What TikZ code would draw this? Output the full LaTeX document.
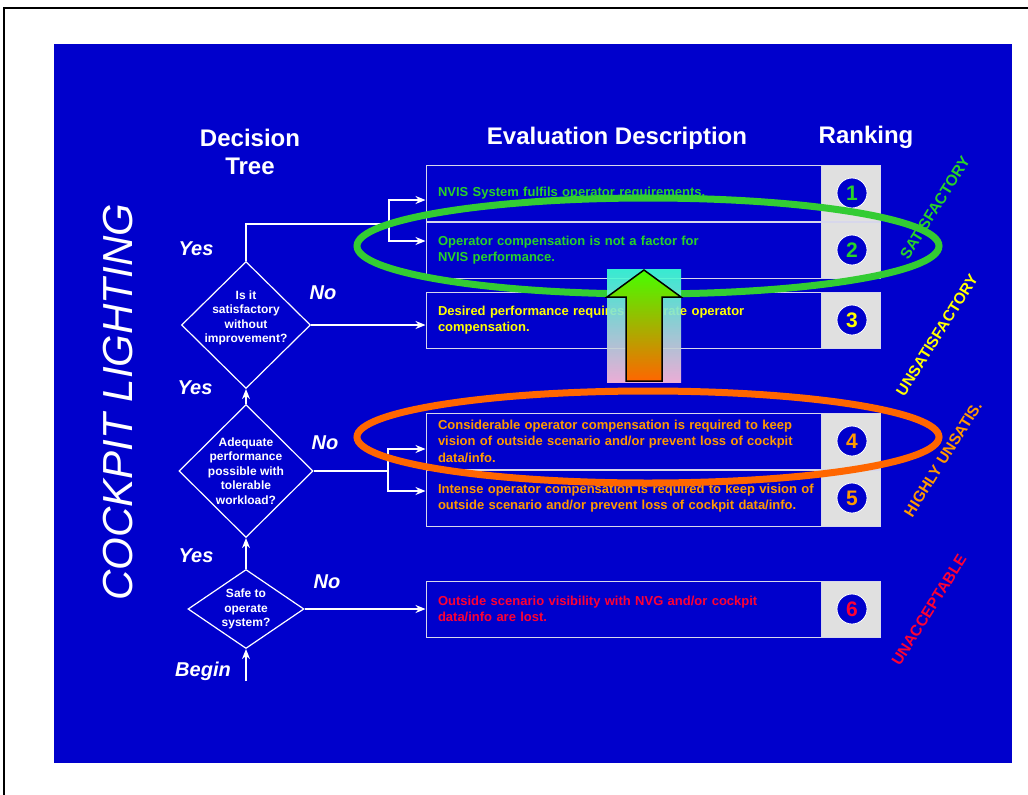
\documentclass[tikz,border=0pt]{standalone}
\usepackage{fontspec}
\setmainfont{Liberation Sans}
\usetikzlibrary{arrows.meta,positioning,shapes.geometric,calc}
\definecolor{slideblue}{RGB}{0,0,204}
\definecolor{satgreen}{RGB}{40,210,40}
\definecolor{ringgreen}{RGB}{51,204,51}
\definecolor{unsatyellow}{RGB}{255,255,0}
\definecolor{hiorange}{RGB}{255,153,0}
\definecolor{ringorange}{RGB}{255,102,0}
\definecolor{unaccred}{RGB}{255,0,51}
\definecolor{cellgray}{RGB}{224,224,224}
\definecolor{boxline}{RGB}{215,215,235}
\definecolor{shaftgreen}{RGB}{70,255,0}
\definecolor{shaftorange}{RGB}{255,102,0}
\definecolor{glowcyan}{RGB}{60,255,210}
\definecolor{glowwhite}{RGB}{242,250,232}
\definecolor{glowpink}{RGB}{255,188,215}
\tikzset{
  conn/.style={draw=white,line width=1.2pt},
  arr/.style={conn,-{Stealth[length=10pt,width=8pt]}},
  decision/.style={diamond,draw=white,line width=1.2pt,inner sep=0pt},
  dtext/.style={text=white,font=\fontsize{12}{14.5}\selectfont\bfseries,align=center},
  evalbox/.style={draw=boxline,line width=1pt,minimum height=56pt,text width=430pt,
    inner xsep=12pt,align=left,font=\fontsize{13}{16.5}\selectfont\bfseries},
  rankcell/.style={draw=boxline,fill=cellgray,line width=1pt,minimum width=59pt,
    minimum height=56pt,anchor=east},
  ranknum/.style={circle,draw=white,fill=slideblue,line width=0.8pt,minimum size=30pt,
    inner sep=0pt,font=\fontsize{21}{21}\selectfont\bfseries},
  answer/.style={text=white,font=\fontsize{20}{20}\selectfont\bfseries\itshape},
  header/.style={text=white,font=\fontsize{24}{28}\selectfont\bfseries,align=center},
  verdict/.style={rotate=58,font=\fontsize{15.5}{15.5}\selectfont\bfseries},
  ring/.style={line width=7pt},
}
\begin{document}
\begin{tikzpicture}[x=1pt,y=-1pt]
  \useasboundingbox (0,0) rectangle (1028,795);
  \fill[white] (0,0) rectangle (1028,795);
  \draw[black,line width=2pt] (4,795) -- (4,8) -- (1028,8);
  \fill[slideblue] (54,44) rectangle (1012,763);

  % headers
  \node[header] (hdtree) at (250,152) {Decision\\Tree};
  \node[header] (hdeval) at (617,138) {Evaluation Description};
  \node[header] (hdrank) at (866,137) {Ranking};
  \node[text=white,rotate=90,font=\fontsize{42}{42}\selectfont\itshape] (title) at (118,402) {COCKPIT LIGHTING};

  % decision tree
  \node[decision,minimum width=129pt,minimum height=127pt,
    label={[dtext,yshift=7pt]center:{Is it\\satisfactory\\without\\improvement?}}] (d1) at (246,325) {};
  \node[decision,minimum width=134pt,minimum height=133pt,
    label={[dtext]center:{Adequate\\performance\\possible with\\tolerable\\workload?}}] (d2) at (246,471) {};
  \node[decision,minimum width=116pt,minimum height=79pt,
    label={[dtext]center:{Safe to\\operate\\system?}}] (d3) at (246,609) {};
  \coordinate (begin) at (246,681);
  \coordinate (fork1) at (389,224);
  \coordinate (fork2) at (388,471);

  \node[answer] (yes1) at (196,249) {Yes};
  \node[answer] (no1) at (323,293) {No};
  \node[answer] (yes2) at (195,388) {Yes};
  \node[answer] (no2) at (325,443) {No};
  \node[answer] (yes3) at (196,556) {Yes};
  \node[answer] (no3) at (327,582) {No};
  \node[answer] (beginlbl) at (203,671) {Begin};

  % evaluation boxes
  \node[evalbox,text=satgreen] (b1) at (653,193) {NVIS System fulfils operator requirements.};
  \node[evalbox,text=satgreen,below=0pt of b1] (b2) {Operator compensation is not a factor for\\NVIS performance.};
  \node[evalbox,text=unsatyellow] (b3) at (653,320) {Desired performance requires moderate operator\\compensation.};
  \node[evalbox,text=hiorange] (b4) at (653,441) {Considerable operator compensation is required to keep\\vision of outside scenario and/or prevent loss of cockpit\\data/info.};
  \node[evalbox,text=hiorange,below=0pt of b4] (b5) {Intense operator compensation is required to keep vision of\\outside scenario and/or prevent loss of cockpit data/info.};
  \node[evalbox,text=unaccred] (b6) at (653,609) {Outside scenario visibility with NVG and/or cockpit\\data/info are lost.};

  \foreach \i/\c in {1/satgreen,2/satgreen,3/unsatyellow,4/hiorange,5/hiorange,6/unaccred}{
    \node[rankcell] (r\i) at (b\i.east) {};
    \node[ranknum,text=\c] (n\i) at ([xshift=1.5pt]r\i.center) {\i};
  }

  % connectors
  \draw[arr] (begin) -- (d3.south);
  \draw[arr] (d3.north) -- (d2.south);
  \draw[arr] (d2.north) -- (d1.south);
  \draw[conn] (d1.north) |- (fork1);
  \draw[arr] (fork1) |- ([yshift=-7pt]b1.west);
  \draw[arr] (fork1) |- ([yshift=9pt]b2.west);
  \draw[arr] (d1.east) -- (d1.east -| b3.west);
  \draw[conn] (d2.east) -- (fork2);
  \draw[arr] (fork2) |- ([yshift=-8pt]b4.west);
  \draw[arr] (fork2) |- ([yshift=7pt]b5.west);
  \draw[arr] (d3.east) -- (d3.east -| b6.west);

  % rankings
  \node[verdict,text=satgreen] (vsat) at (935,208) {SATISFACTORY};
  \node[verdict,text=unsatyellow] (vunsat) at (937,335) {UNSATISFACTORY};
  \node[verdict,text=hiorange] (vhigh) at (943,459) {HIGHLY UNSATIS.};
  \node[verdict,text=unaccred] (vunacc) at (929,610) {UNACCEPTABLE};

  % rings and improvement arrow
  \draw[ring,ringgreen] (648,246) ellipse [x radius=291pt,y radius=48pt];
  \draw[ring,ringorange] (648,437) ellipse [x radius=291pt,y radius=46pt];
  \shade[top color=glowcyan,middle color=glowwhite,bottom color=glowpink,opacity=0.92]
    (607,269) rectangle (681,382);
  \shadedraw[top color=shaftgreen,bottom color=shaftorange,draw=black,line width=1.5pt]
    (644,270) -- (681,297) -- (662,297) -- (662,381) -- (626,381) -- (626,297) -- (607,297) -- cycle;
\end{tikzpicture}
\end{document}
